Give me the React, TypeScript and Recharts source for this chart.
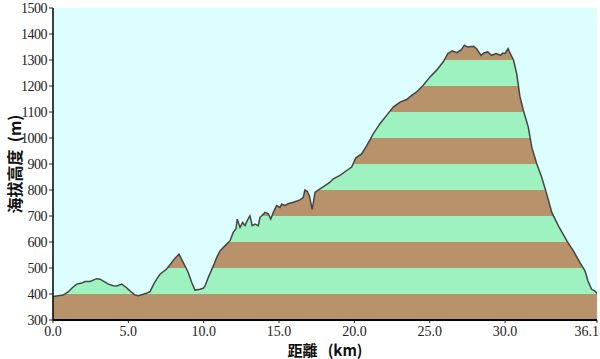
import React from 'react';
import { AreaChart, Area, XAxis, YAxis, CartesianGrid, Label } from 'recharts';

const distanceKm = [
  0.0, 0.35, 0.68, 1.02, 1.3, 1.57, 1.9, 2.12, 2.46, 2.9, 3.12, 3.4, 3.67, 4.0, 4.23, 4.56, 4.8, 5.0,
  5.25, 5.44, 5.66, 5.99, 6.2, 6.44, 6.7, 6.88, 7.1, 7.54, 7.88, 8.1, 8.36, 8.65, 8.98, 9.2, 9.42,
  9.75, 9.97, 10.09, 10.3, 10.64, 10.86, 11.08, 11.41, 11.75, 11.96, 12.14, 12.23, 12.41, 12.59,
  12.74, 12.89, 13.07, 13.22, 13.4, 13.62, 13.74, 13.85, 14.07, 14.29, 14.45, 14.62, 14.84, 15.06,
  15.18, 15.39, 15.55, 15.95, 16.39, 16.61, 16.72, 16.87, 17.01, 17.2, 17.39, 17.72, 18.05, 18.38,
  18.6, 19.04, 19.49, 19.82, 20.1, 20.48, 20.82, 21.25, 21.7, 22.14, 22.58, 23.03, 23.47, 23.8,
  24.13, 24.57, 25.02, 25.46, 25.9, 26.2, 26.5, 26.8, 27.1, 27.3, 27.5, 27.9, 28.1, 28.4, 28.6,
  28.85, 29.1, 29.4, 29.7, 29.85, 30.0, 30.2, 30.3, 30.56, 30.77, 30.99, 31.21, 31.54, 31.77, 32.1,
  32.43, 32.76, 33.1, 33.53, 34.09, 34.53, 34.97, 35.3, 35.5, 35.74, 35.95, 36.1,
];

const elevationM = [
  390, 393, 396, 409, 425, 438, 442, 448, 448, 459, 457, 448, 438, 432, 431, 438, 428, 418,
  405, 396, 393, 399, 403, 409, 440, 457, 476, 496, 521, 538, 553, 521, 482, 445, 415,
  418, 422, 431, 463, 508, 540, 566, 585, 605, 637, 650, 688, 656, 675,
  663, 682, 701, 663, 669, 663, 695, 701, 714, 708, 688, 714, 740, 733,
  746, 740, 746, 753, 762, 772, 800, 795, 778, 725, 791, 804, 817, 830,
  843, 856, 875, 888, 924, 939, 971, 1016, 1055, 1087, 1119, 1138, 1148, 1164,
  1177, 1203, 1235, 1261, 1293, 1325, 1335, 1328, 1340, 1357, 1350, 1353, 1344, 1318, 1327,
  1331, 1318, 1325, 1318, 1327, 1325, 1344, 1331, 1299, 1248, 1158, 1107, 1042, 965, 901,
  849, 785, 714, 663, 605, 566, 521, 489, 450, 418, 412, 402,
];

const xTicks = [0, 5, 10, 15, 20, 25, 30, 36.1];
const yTicks = [300, 400, 500, 600, 700, 800, 900, 1000, 1100, 1200, 1300, 1400, 1500];

const Y_MIN = 300;
const Y_MAX = 1500;
const X_MAX = 36.1;
const BAND = 100;

const BROWN = '#B8926A';
const GREEN = '#9DF2BF';
const SKY = '#DCFEFE';
const LINE = '#454545';

const data = distanceKm.map((d, i) => ({ d, h: elevationM[i] }));

// Hard-stop gradient bands (every 100 m), relative to the area's bounding box
const topVal = Math.max(...elevationM);
const span = topVal - Y_MIN;
const bandStops: { offset: number; color: string }[] = [];
{
  let lo = Math.floor(topVal / BAND) * BAND;
  let hi = topVal;
  while (hi > Y_MIN) {
    const idx = Math.round((lo - Y_MIN) / BAND);
    const color = idx % 2 === 0 ? BROWN : GREEN;
    bandStops.push({ offset: (topVal - hi) / span, color });
    bandStops.push({ offset: (topVal - lo) / span, color });
    hi = lo;
    lo = lo - BAND;
  }
}

const FONT = '"Liberation Serif", "DejaVu Serif", serif';
const CJK = '"Noto Sans CJK TC", "Noto Sans CJK SC", sans-serif';

const XTick = (props: any) => {
  const { x, y, payload } = props;
  const last = payload.value === X_MAX;
  return (
    <text
      x={last ? x + 2 : x}
      y={y}
      dy={11}
      textAnchor={last ? 'end' : 'middle'}
      fontFamily={FONT}
      fontSize={14}
      fill="#222"
    >
      {Number(payload.value).toFixed(1)}
    </text>
  );
};

const YTick = (props: any) => {
  const { x, y, payload } = props;
  return (
    <text x={x} y={y} dy={5} textAnchor="end" fontFamily={FONT} fontSize={14} fill="#222" letterSpacing={-0.5}>
      {payload.value}
    </text>
  );
};

export default function App() {
  return (
    <div style={{ position: 'absolute', left: 0, top: 0, width: 600, height: 359, background: '#fff' }}>
      <AreaChart width={600} height={359} data={data} margin={{ top: 8, right: 3, bottom: 0, left: 8 }}>
        <defs>
          <linearGradient id="bands" x1="0" y1="0" x2="0" y2="1">
            {bandStops.map((s, i) => (
              <stop key={i} offset={s.offset} stopColor={s.color} />
            ))}
          </linearGradient>
        </defs>
        <CartesianGrid horizontal={false} vertical={false} fill={SKY} />
        <XAxis
          dataKey="d"
          type="number"
          domain={[0, X_MAX]}
          ticks={xTicks}
          allowDataOverflow
          height={39}
          tickSize={3}
          tickLine={{ stroke: '#222' }}
          axisLine={{ stroke: '#000', strokeWidth: 2 }}
          tick={<XTick />}
          interval={0}
        >
          <Label
            content={(p: any) => {
              const vb = p.viewBox;
              return (
                <text
                  x={vb.x + vb.width / 2}
                  y={vb.y + 36}
                  textAnchor="middle"
                  fontFamily={CJK}
                  fontWeight="bold"
                  fontSize={15}
                  fill="#111"
                >
                  {'距離\u00A0\u00A0\u00A0(km)'}
                </text>
              );
            }}
          />
        </XAxis>
        <XAxis
          xAxisId="top"
          orientation="top"
          type="number"
          domain={[0, X_MAX]}
          height={0}
          tick={false}
          tickLine={false}
          axisLine={{ stroke: '#666' }}
        />
        <YAxis
          type="number"
          domain={[Y_MIN, Y_MAX]}
          ticks={yTicks}
          allowDataOverflow
          width={45}
          tickSize={4}
          tickLine={{ stroke: '#222' }}
          axisLine={{ stroke: '#000', strokeWidth: 1.5 }}
          tick={<YTick />}
          interval={0}
        >
          <Label
            content={(p: any) => {
              const vb = p.viewBox;
              const cx = 14;
              const cy = vb.y + vb.height / 2;
              return (
                <text
                  x={cx}
                  y={cy}
                  transform={`rotate(-90 ${cx} ${cy})`}
                  textAnchor="middle"
                  dominantBaseline="central"
                  fontFamily={CJK}
                  fontWeight="bold"
                  fontSize={16}
                  fill="#111"
                >
                  {'海拔高度\u00A0\u00A0(m)'}
                </text>
              );
            }}
          />
        </YAxis>
        <YAxis
          yAxisId="right"
          orientation="right"
          type="number"
          domain={[Y_MIN, Y_MAX]}
          width={0}
          tick={false}
          tickLine={false}
          axisLine={{ stroke: '#444' }}
        />
        <Area
          type="linear"
          dataKey="h"
          stroke={LINE}
          strokeWidth={1.5}
          fill="url(#bands)"
          fillOpacity={1}
          isAnimationActive={false}
          dot={false}
          activeDot={false}
        />
      </AreaChart>
    </div>
  );
}
